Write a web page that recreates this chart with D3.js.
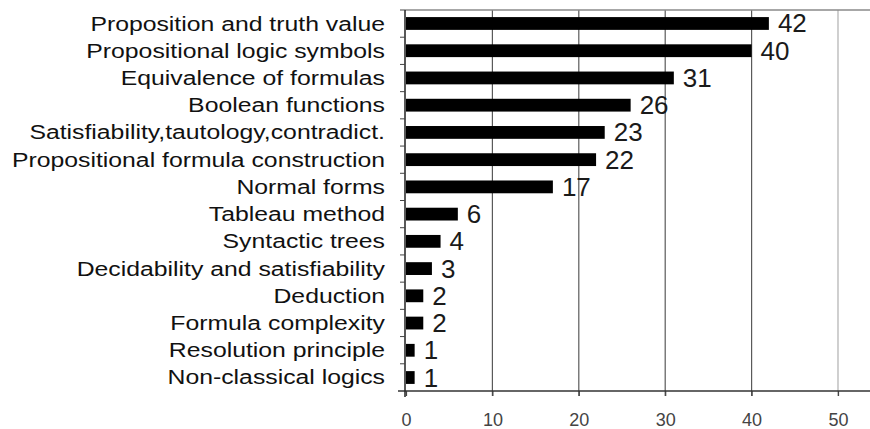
<!DOCTYPE html>
<html>
<head>
<meta charset="utf-8">
<script src="https://cdn.jsdelivr.net/npm/d3@7"></script>
<style>
  body { margin: 0; background: #fff; overflow: hidden; }
  svg { display: block; font-family: "Liberation Sans", Arial, sans-serif; }
</style>
</head>
<body>
<div class="chart"></div>
<script>
var w = 870;
var h = 429;

var categories = [
    "Proposition and truth value",
    "Propositional logic symbols",
    "Equivalence of formulas",
    "Boolean functions",
    "Satisfiability,tautology,contradict.",
    "Propositional formula construction",
    "Normal forms",
    "Tableau method",
    "Syntactic trees",
    "Decidability and satisfiability",
    "Deduction",
    "Formula complexity",
    "Resolution principle",
    "Non-classical logics"
];
var counts = [42, 40, 31, 26, 23, 22, 17, 6, 4, 3, 2, 2, 1, 1];
var tickValues = [0, 10, 20, 30, 40, 50];

var x0 = 406, plotTop = 10, plotBottom = 391;

var xScale = d3.scaleLinear()
    .domain([0, 50])
    .range([x0, 838]);

var yScale = d3.scaleBand()
    .domain(categories)
    .range([plotTop, plotBottom])
    .paddingInner(0.53)
    .paddingOuter(0.26);

var band = d3.scaleBand()
    .domain(categories)
    .range([plotTop, plotBottom]);

var svg = d3.select(".chart")
    .append("svg")
    .attr("width", w)
    .attr("height", h);

// gridlines
svg.selectAll("line.grid")
    .data(tickValues.slice(1))
    .enter()
    .append("line")
    .attr("class", "grid")
    .attr("x1", function(d) { return xScale(d); })
    .attr("x2", function(d) { return xScale(d); })
    .attr("y1", plotTop)
    .attr("y2", plotBottom + 5)
    .attr("stroke", function(d) { return d === 50 ? "#b0b0b0" : "#5a5a5a"; })
    .attr("stroke-width", 1.2);

// top border
svg.append("line")
    .attr("x1", x0 - 1).attr("x2", w)
    .attr("y1", plotTop).attr("y2", plotTop)
    .attr("stroke", "#8a8a8a")
    .attr("stroke-width", 1.5);

// bottom axis
var xAxis = d3.axisBottom(xScale)
    .tickValues(tickValues)
    .tickSize(5)
    .tickPadding(17);

var gx = svg.append("g")
    .attr("transform", "translate(0," + plotBottom + ")")
    .call(xAxis);
gx.select(".domain").remove();
gx.append("line")
    .attr("x1", x0 - 8).attr("x2", w)
    .attr("stroke", "#333").attr("stroke-width", 1.5);
gx.selectAll(".tick line").attr("stroke", "#444").attr("stroke-width", 1.2);
gx.selectAll(".tick text")
    .attr("font-size", 18)
    .attr("fill", "#444")
    .attr("font-family", "Liberation Sans, Arial, sans-serif");

// left axis
svg.append("line")
    .attr("x1", x0 - 1).attr("x2", x0 - 1)
    .attr("y1", plotTop).attr("y2", plotBottom + 6)
    .attr("stroke", "#222").attr("stroke-width", 1.5);

svg.selectAll("line.cat")
    .data(categories)
    .enter()
    .append("line")
    .attr("class", "cat")
    .attr("x1", x0 - 6).attr("x2", x0 - 1)
    .attr("y1", function(d) { return band(d); })
    .attr("y2", function(d) { return band(d); })
    .attr("stroke", "#444");

// bars
svg.selectAll("rect")
    .data(counts)
    .enter()
    .append("rect")
    .attr("x", x0)
    .attr("y", function(d, i) { return yScale(categories[i]); })
    .attr("width", function(d) { return xScale(d) - x0; })
    .attr("height", yScale.bandwidth())
    .attr("fill", "#000");

// value labels
svg.selectAll("text.val")
    .data(counts)
    .enter()
    .append("text")
    .attr("class", "val")
    .attr("x", function(d) { return xScale(d) + 9; })
    .attr("y", function(d, i) { return yScale(categories[i]) + yScale.bandwidth() / 2 + 9; })
    .attr("font-size", 26)
    .attr("fill", "#1a1a1a")
    .text(function(d) { return d; });

// category labels
svg.selectAll("text.cat")
    .data(categories)
    .enter()
    .append("text")
    .attr("class", "cat")
    .attr("transform", function(d) {
        return "translate(385," + (band(d) + band.bandwidth() / 2 + 7) + ") scale(1.18,1)";
    })
    .attr("text-anchor", "end")
    .attr("font-size", 21)
    .attr("fill", "#111")
    .text(function(d) { return d; });
</script>
</body>
</html>
